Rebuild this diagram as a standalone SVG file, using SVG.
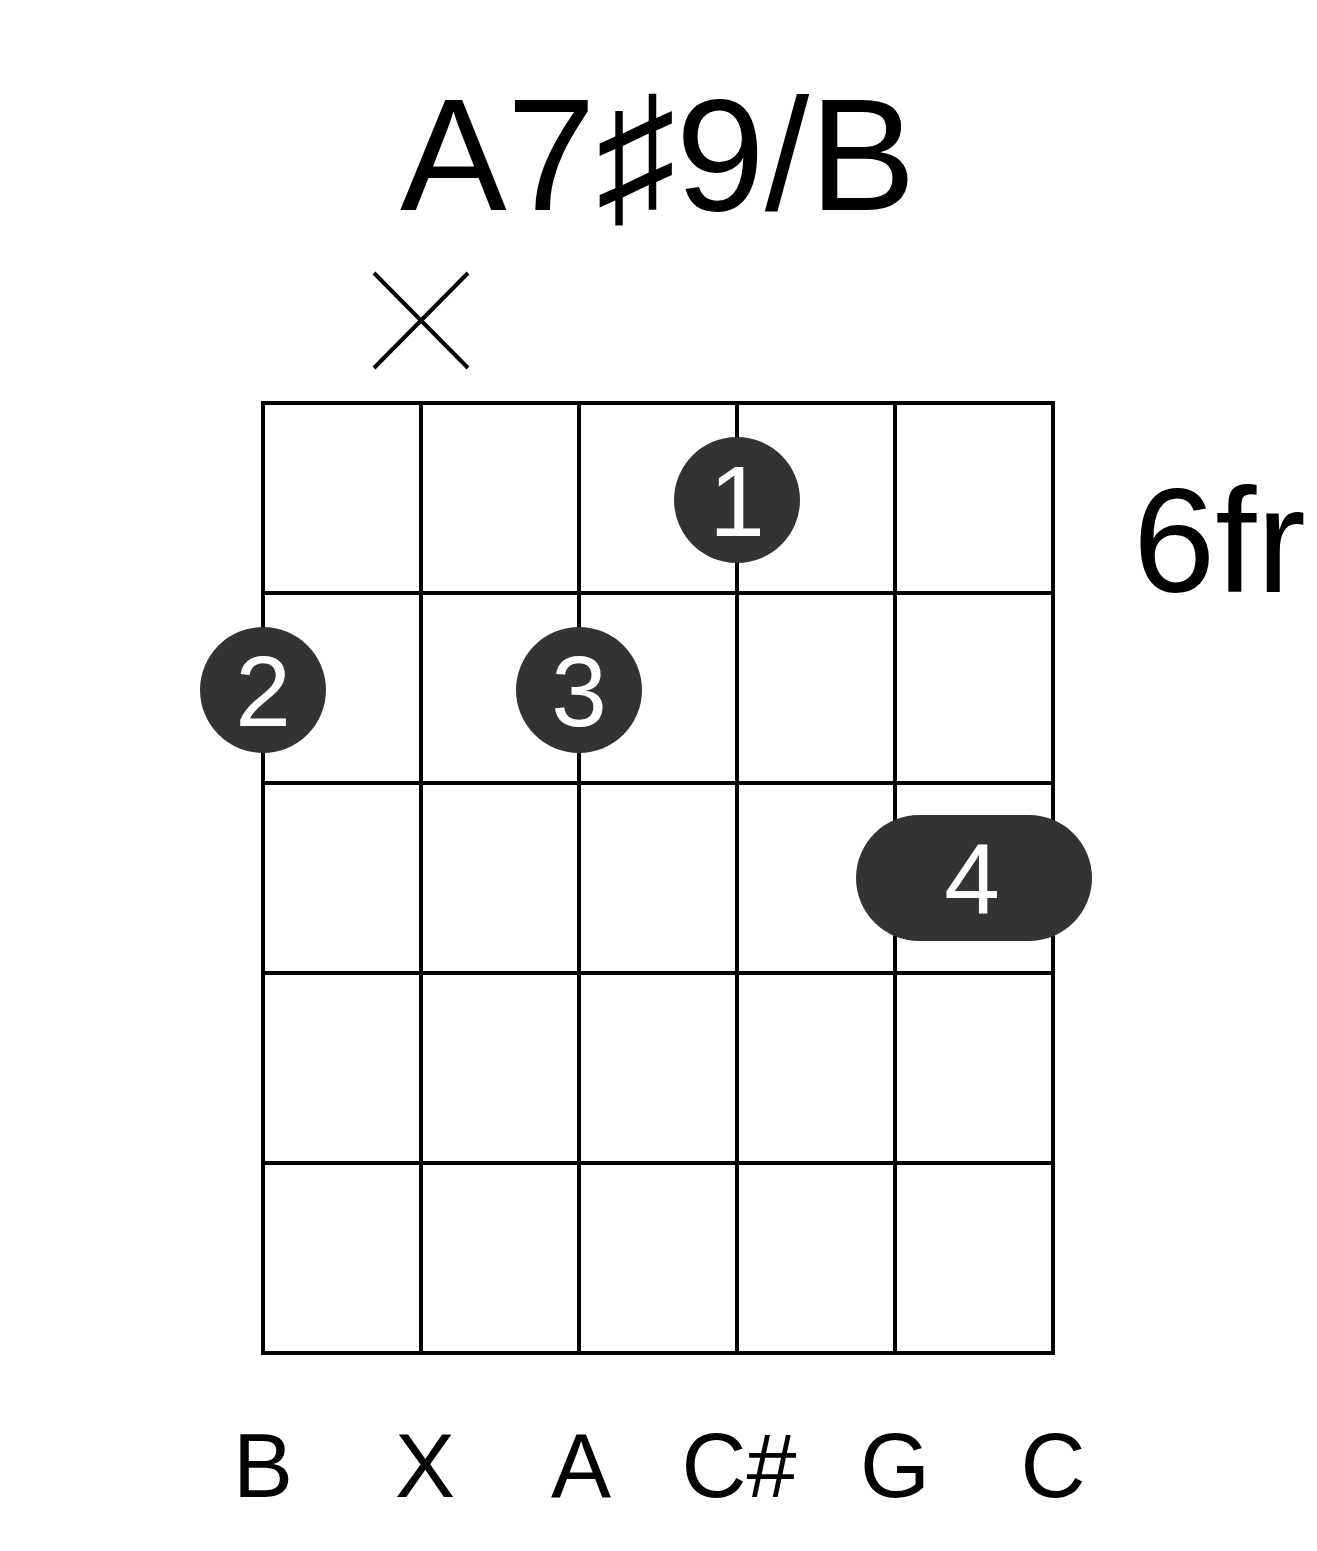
<svg xmlns="http://www.w3.org/2000/svg" width="1317" height="1551" viewBox="0 0 1317 1551">
<style>
.g{stroke:#000;stroke-width:4;fill:none}
.d{fill:#333}
.dt{fill:#fff;font-family:"Liberation Sans",Arial,sans-serif;font-size:100px;text-anchor:middle}
.t{font-family:"Liberation Sans","DejaVu Sans",sans-serif;fill:#000}
.n{font-size:90px;text-anchor:middle}
</style>
<rect width="1317" height="1551" fill="#fff"/>
<text class="t" x="658" y="210" font-size="160" text-anchor="middle">A7♯9/B</text>
<g id="mute"><path class="g" d="M374 273L468 368M468 273L374 368"/></g>
<g id="grid">
<rect class="g" x="263" y="403" width="790" height="950"/>
<path class="g" d="M421 403V1353M579 403V1353M737 403V1353M895 403V1353M263 593H1053M263 783H1053M263 973H1053M263 1163H1053"/>
</g>
<text class="t" x="1133" y="592" font-size="148">6fr</text>
<g id="f1"><circle class="d" cx="737" cy="500" r="63"/><text class="dt" x="737" y="536">1</text></g>
<g id="f2"><circle class="d" cx="263" cy="690" r="63"/><text class="dt" x="263" y="726">2</text></g>
<g id="f3"><circle class="d" cx="579" cy="690" r="63"/><text class="dt" x="579" y="726">3</text></g>
<g id="f4"><rect class="d" x="856" y="815" width="236" height="126" rx="63"/><text class="dt" x="972" y="914">4</text></g>
<g id="labels" class="t n">
<text x="263" y="1497">B</text><text x="425" y="1497">X</text><text x="581" y="1497">A</text><text x="739" y="1497">C#</text><text x="895" y="1497">G</text><text x="1053" y="1497">C</text>
</g>
</svg>
